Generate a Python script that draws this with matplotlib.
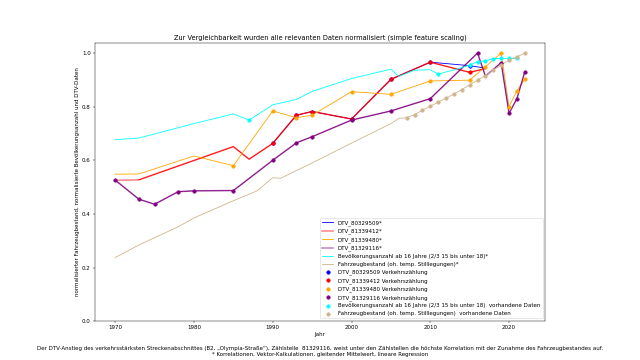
"""
normalisierte DTV-Daten, Bevoelkerungsanzahl und Fahrzeugbestand
(simple feature scaling) im Vergleich
"""

import numpy as np
import matplotlib
matplotlib.use('Agg')
import matplotlib.pyplot as plt

##########################################
# DTV Zaehlstellen (normalisiert)
blue_years = [1990, 1993, 1995, 2000, 2005, 2010, 2015, 2017]
blue_vals = [0.663, 0.768, 0.782, 0.754, 0.902, 0.966, 0.953, 0.944]

red_years = [1970, 1973, 1985, 1987, 1990, 1993, 1995, 2000, 2005, 2010, 2015, 2017]
red_vals = [0.525, 0.527, 0.651, 0.604, 0.663, 0.768, 0.782, 0.754, 0.902, 0.966, 0.928, 0.942]

orange_years = [1970, 1973, 1980, 1985, 1990, 1993, 1995, 2000, 2005, 2010, 2015, 2017, 2019, 2020, 2021, 2022]
orange_vals = [0.548, 0.549, 0.616, 0.580, 0.784, 0.759, 0.768, 0.856, 0.846, 0.896, 0.899, 0.949, 1.0, 0.800, 0.860, 0.902]

purple_years = [1970, 1973, 1975, 1978, 1980, 1985, 1990, 1993, 1995, 2000, 2005, 2010, 2016, 2017, 2019, 2020, 2021, 2022]
purple_vals = [0.526, 0.455, 0.436, 0.483, 0.486, 0.487, 0.600, 0.665, 0.688, 0.750, 0.784, 0.830, 1.0, 0.914, 0.964, 0.775, 0.830, 0.930]

# Bevoelkerungsanzahl ab 16 Jahre
cyan_years = [1970, 1973, 1980, 1985, 1987, 1990, 1993, 1995, 2000, 2005, 2006, 2008, 2010, 2011, 2013, 2015, 2016, 2017, 2018, 2019, 2020, 2021]
cyan_vals = [0.677, 0.683, 0.737, 0.773, 0.750, 0.807, 0.827, 0.857, 0.905, 0.940, 0.913, 0.936, 0.938, 0.922, 0.937, 0.955, 0.968, 0.971, 0.979, 0.980, 0.980, 0.981]

# Fahrzeugbestand (oh. temp. Stilllegungen)
tan_years = [1970, 1973, 1978, 1980, 1985, 1988, 1990, 1991, 1995, 2000, 2005, 2006, 2007, 2008, 2009, 2010,
             2011, 2012, 2013, 2014, 2015, 2016, 2017, 2018, 2019, 2020, 2021, 2022]
tan_vals = [0.237, 0.284, 0.352, 0.385, 0.449, 0.486, 0.535, 0.533, 0.590, 0.664, 0.737, 0.756, 0.759, 0.770, 0.787, 0.802,
            0.817, 0.832, 0.847, 0.864, 0.881, 0.899, 0.916, 0.937, 0.955, 0.974, 0.986, 1.0]

# Verkehrszaehlungen / vorhandene Daten
blue_cnt_years = [1990, 1993, 1995, 2000, 2005, 2010, 2015]
blue_cnt_vals = [0.663, 0.768, 0.782, 0.754, 0.902, 0.966, 0.953]
red_cnt_years = [1990, 1993, 1995, 2000, 2005, 2010, 2015]
red_cnt_vals = [0.663, 0.768, 0.782, 0.754, 0.902, 0.966, 0.928]
orange_cnt_years = [1985, 1990, 1993, 1995, 2000, 2005, 2010, 2015, 2017, 2019, 2020, 2021, 2022]
orange_cnt_vals = [0.580, 0.784, 0.759, 0.768, 0.856, 0.846, 0.896, 0.899, 0.949, 1.0, 0.800, 0.860, 0.902]
purple_cnt_years = [1970, 1973, 1975, 1978, 1980, 1985, 1990, 1993, 1995, 2000, 2005, 2010, 2016, 2019, 2020, 2021, 2022]
purple_cnt_vals = [0.526, 0.455, 0.436, 0.483, 0.486, 0.487, 0.600, 0.665, 0.688, 0.750, 0.784, 0.830, 1.0, 0.964, 0.775, 0.830, 0.930]
cyan_cnt_years = [1987, 2011, 2015, 2016, 2017, 2018, 2019, 2020, 2021]
cyan_cnt_vals = [0.750, 0.922, 0.955, 0.968, 0.971, 0.979, 0.980, 0.980, 0.981]
tan_cnt_years = list(range(2007, 2023))
tan_cnt_vals = [0.759, 0.770, 0.787, 0.802, 0.817, 0.832, 0.847, 0.864, 0.881, 0.899, 0.916, 0.937, 0.955, 0.974, 0.986, 1.0]

##########################################
fig = plt.figure(figsize=(16, 9), dpi=40)
ax = fig.gca()
fig.subplots_adjust(left=0.148, right=0.852, bottom=0.108, top=0.881)

ax.plot(blue_years, blue_vals, color='blue', label='DTV_80329509*')
ax.plot(red_years, red_vals, color='red', alpha=0.45, linewidth=3, label='DTV_81339412*')
ax.plot(red_years[1:], red_vals[1:], color='red')
ax.plot(orange_years, orange_vals, color='orange', label='DTV_81339480*')
ax.plot(purple_years, purple_vals, color='purple', alpha=0.45, linewidth=3, label='DTV_81329116*')
ax.plot(purple_years, purple_vals, color='purple')
ax.plot(cyan_years, cyan_vals, color='cyan', label='Bevölkerungsanzahl ab 16 Jahre (2/3 15 bis unter 18)*')
ax.plot(tan_years, tan_vals, color='tan', label='Fahrzeugbestand (oh. temp. Stilllegungen)*')

ms = 40
ax.scatter(blue_cnt_years, blue_cnt_vals, color='blue', s=ms, zorder=3, label='DTV_80329509 Verkehrszählung')
ax.scatter(red_cnt_years, red_cnt_vals, color='red', s=ms, zorder=3, label='DTV_81339412 Verkehrszählung')
ax.scatter(orange_cnt_years, orange_cnt_vals, color='orange', s=ms, zorder=3, label='DTV_81339480 Verkehrszählung')
ax.scatter(purple_cnt_years, purple_cnt_vals, color='purple', s=ms, zorder=3, label='DTV_81329116 Verkehrszählung')
ax.scatter(cyan_cnt_years, cyan_cnt_vals, color='cyan', s=ms, zorder=3,
           label='Bevölkerungsanzahl ab 16 Jahre (2/3 15 bis unter 18)  vorhandene Daten')
ax.scatter(tan_cnt_years, tan_cnt_vals, color='tan', s=ms, zorder=3,
           label='Fahrzeugbestand (oh. temp. Stilllegungen)  vorhandene Daten')

ax.set_ylim(bottom=0)
ax.set_title('Zur Vergleichbarkeit wurden alle relevanten Daten normalisiert (simple feature scaling)')
ax.set_xlabel('Jahr')
ax.set_ylabel('normalisierter Fahrzeugbestand, normalisierte Bevölkerungsanzahl und DTV-Daten')
ax.legend(loc='lower right')

fig.text(0.5, 0.008,
         'Der DTV-Anstieg des verkehrsstärksten Streckenabschnittes (B2, \u201eOlympia-Straße\u201c), '
         'Zählstelle  81329116, weist unter den Zählstellen die höchste Korrelation mit der Zunahme '
         'des Fahrzeugbestandes auf.\n* Korrelationen, Vektor-Kalkulationen, gleitender Mittelwert, lineare Regression',
         ha='center', va='bottom', multialignment='center')

fig.savefig('out.png', dpi=40)
